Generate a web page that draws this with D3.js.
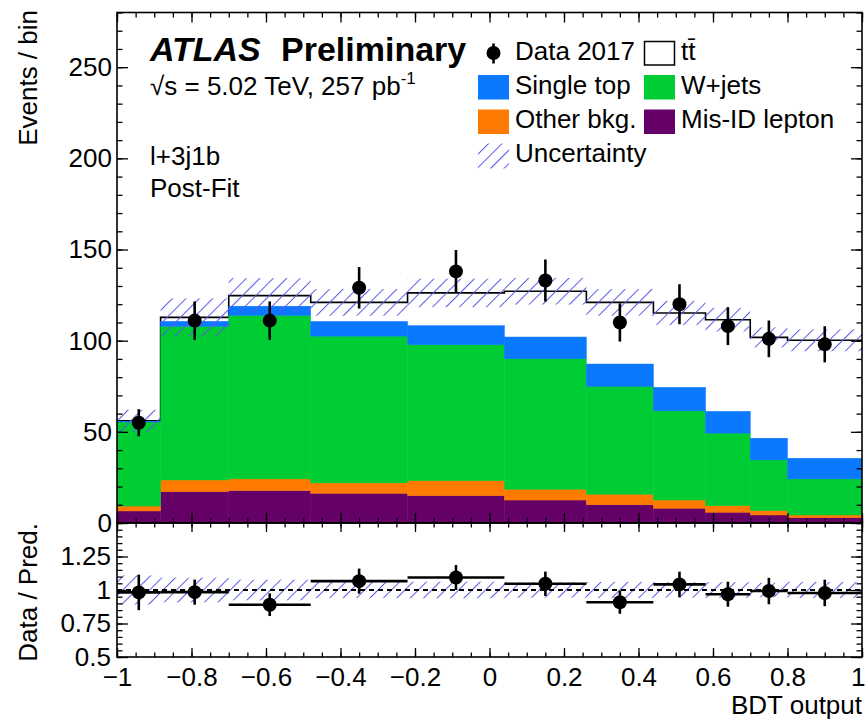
<!DOCTYPE html>
<html><head><meta charset="utf-8">
<script src="https://cdn.jsdelivr.net/npm/d3@7"></script>
<style>
body{margin:0;background:#fff}
text{font-family:"Liberation Sans",Arial,Helvetica,sans-serif;fill:#000}
</style>
</head><body>
<svg id="c" width="866" height="721"></svg>
<script>
// ---- data ----
const binEdges  = [-1, -0.883, -0.70, -0.48, -0.22, 0.04, 0.26, 0.44, 0.58, 0.70, 0.80, 1];
const misID     = [6.6, 17.2, 17.8, 16.3, 15.0, 12.6, 10.0, 8.1, 5.9, 4.4, 2.9];
const otherBkg  = [2.7, 6.4, 6.4, 5.7, 8.2, 5.9, 5.8, 4.5, 3.6, 2.4, 1.5];
const wjets     = [46.1, 84.3, 89.7, 80.5, 74.6, 71.6, 59.1, 48.9, 39.8, 27.8, 19.8];
const singleTop = [0.4, 2.7, 5.0, 8.0, 10.4, 11.9, 12.3, 12.9, 11.9, 11.9, 11.3];
const ttbar     = [0.2, 2.2, 5.8, 10.5, 18.0, 25.1, 33.8, 40.8, 50.3, 55.3, 64.7];
const dataVals  = [55, 111, 111, 129, 138, 133, 110, 120, 108, 101, 98];
const uncert    = [6.1, 10.4, 9.6, 7.3, 7.8, 7.3, 7.3, 6.6, 6.5, 5.5, 6.0];
const xTicks    = [-1, -0.8, -0.6, -0.4, -0.2, 0, 0.2, 0.4, 0.6, 0.8, 1];
const yTicks    = [0, 50, 100, 150, 200, 250];
const rTicks    = [0.5, 0.75, 1, 1.25];

const svg = d3.select("#c");
const FS = 26;
const L = 117, R = 862, T = 12.5, MB = 523, RB = 657;
const x  = d3.scaleLinear().domain([-1, 1]).range([L, R]);
const y  = d3.scaleLinear().domain([0, 280]).range([MB, T]);
const yr = d3.scaleLinear().domain([0.5, 1.5]).range([RB, MB]);

const colors = {misID:"#650066", other:"#ff7a00", wjets:"#00cc33", single:"#0a78ff", tt:"#ffffff"};
const hatchCol = "#5a5ae6";

// defs: hatch + clips
const defs = svg.append("defs");
const pat = defs.append("pattern").attr("id","hatch").attr("patternUnits","userSpaceOnUse")
  .attr("width",9.5).attr("height",9.5).attr("patternTransform","rotate(45)");
pat.append("line").attr("x1",0).attr("y1",0).attr("x2",0).attr("y2",9.5)
  .attr("stroke",hatchCol).attr("stroke-width",2);
defs.append("clipPath").attr("id","clipMain").append("rect").attr("x",L).attr("y",T).attr("width",R-L).attr("height",MB-T);
defs.append("clipPath").attr("id","clipRatio").append("rect").attr("x",L).attr("y",MB).attr("width",R-L).attr("height",RB-MB);

// ---- stack ----
const rows = binEdges.slice(0,-1).map((e,i)=>({
  lo:e, hi:binEdges[i+1], misID:misID[i], other:otherBkg[i], wjets:wjets[i], single:singleTop[i], tt:ttbar[i]
}));
const keys = ["misID","other","wjets","single","tt"];
const stacked = d3.stack().keys(keys)(rows);
const total = rows.map(r=>keys.reduce((s,k)=>s+r[k],0));

const gMain = svg.append("g").attr("clip-path","url(#clipMain)");

// total (ttbar) outline drawn first, as in stacked histograms
const stepPts = [];
rows.forEach((r,i)=>{ stepPts.push([x(r.lo), y(total[i])]); stepPts.push([x(r.hi), y(total[i])]); });
gMain.append("path").attr("d", d3.line()(stepPts)).attr("fill","none").attr("stroke","#000").attr("stroke-width",1.6);

// filled components (excluding ttbar, which is white)
stacked.filter(s=>s.key!=="tt").forEach(s=>{
  gMain.append("g").selectAll("rect").data(s).join("rect")
    .attr("x", d=>x(d.data.lo)).attr("width", d=>x(d.data.hi)-x(d.data.lo))
    .attr("y", d=>y(d[1])).attr("height", d=>y(d[0])-y(d[1]))
    .attr("fill", colors[s.key]).attr("stroke", colors[s.key]).attr("stroke-width",0.5);
});

// uncertainty band
gMain.append("g").selectAll("rect").data(rows).join("rect")
  .attr("x", d=>x(d.lo)).attr("width", d=>x(d.hi)-x(d.lo))
  .attr("y", (d,i)=>y(total[i]+uncert[i])).attr("height",(d,i)=>y(total[i]-uncert[i])-y(total[i]+uncert[i]))
  .attr("fill","url(#hatch)");

// data points
const centers = rows.map(r=>(r.lo+r.hi)/2);
const gData = svg.append("g");
gData.selectAll("line").data(dataVals).join("line")
  .attr("x1",(d,i)=>x(centers[i])).attr("x2",(d,i)=>x(centers[i]))
  .attr("y1",d=>y(d+Math.sqrt(d))).attr("y2",d=>y(d-Math.sqrt(d)))
  .attr("stroke","#000").attr("stroke-width",2.6);
gData.selectAll("circle").data(dataVals).join("circle")
  .attr("cx",(d,i)=>x(centers[i])).attr("cy",d=>y(d)).attr("r",7).attr("fill","#000");

// ---- ratio panel ----
const gRatio = svg.append("g").attr("clip-path","url(#clipRatio)");
gRatio.append("g").selectAll("rect").data(rows).join("rect")
  .attr("x", d=>x(d.lo)).attr("width", d=>x(d.hi)-x(d.lo))
  .attr("y",(d,i)=>yr(1+uncert[i]/total[i])).attr("height",(d,i)=>yr(1-uncert[i]/total[i])-yr(1+uncert[i]/total[i]))
  .attr("fill","url(#hatch)");
gRatio.append("line").attr("x1",L).attr("x2",R).attr("y1",yr(1)).attr("y2",yr(1))
  .attr("stroke","#000").attr("stroke-width",2).attr("stroke-dasharray","5,4");
const ratio = dataVals.map((d,i)=>d/total[i]);
const ratioErr = dataVals.map((d,i)=>Math.sqrt(d)/total[i]);
gRatio.append("g").selectAll("line").data(ratio).join("line")
  .attr("x1",(d,i)=>x(rows[i].lo)).attr("x2",(d,i)=>x(rows[i].hi))
  .attr("y1",d=>yr(d)).attr("y2",d=>yr(d)).attr("stroke","#000").attr("stroke-width",2.6);
gRatio.append("g").selectAll("line").data(ratio).join("line")
  .attr("x1",(d,i)=>x(centers[i])).attr("x2",(d,i)=>x(centers[i]))
  .attr("y1",(d,i)=>yr(d+ratioErr[i])).attr("y2",(d,i)=>yr(d-ratioErr[i]))
  .attr("stroke","#000").attr("stroke-width",2.6);
gRatio.append("g").selectAll("circle").data(ratio).join("circle")
  .attr("cx",(d,i)=>x(centers[i])).attr("cy",d=>yr(d)).attr("r",7).attr("fill","#000");

// ---- axes ----
const fmt = d3.format("~g");
const minorX = d3.range(-1, 1.0001, 0.05).map(v=>+v.toFixed(2));
const minorY = d3.range(0, 281, 10);
const minorR = d3.range(0.5, 1.5001, 0.05).map(v=>+v.toFixed(2));

function styleAxis(g, labels){
  g.select(".domain").remove();
  g.selectAll(".tick line").attr("stroke","#000").attr("stroke-width",1.3);
  g.selectAll(".tick text").attr("font-size",FS).style("font-family",'"Liberation Sans",Arial,sans-serif');
  if(!labels) g.selectAll(".tick text").remove();
}
function addAxis(axis, tx, ty, labels){
  const g = svg.append("g").attr("transform",`translate(${tx},${ty})`).call(axis);
  styleAxis(g, labels); return g;
}
// main panel x ticks (bottom & top)
addAxis(d3.axisBottom(x).tickValues(xTicks).tickSize(-10).tickFormat(""), 0, MB, false);
addAxis(d3.axisBottom(x).tickValues(minorX).tickSize(-5).tickFormat(""), 0, MB, false);
addAxis(d3.axisTop(x).tickValues(xTicks).tickSize(-10).tickFormat(""), 0, T, false);
addAxis(d3.axisTop(x).tickValues(minorX).tickSize(-5).tickFormat(""), 0, T, false);
// main y
addAxis(d3.axisLeft(y).tickValues(yTicks).tickSize(-11).tickPadding(5).tickFormat(fmt), L, 0, true);
addAxis(d3.axisLeft(y).tickValues(minorY).tickSize(-5.5).tickFormat(""), L, 0, false);
addAxis(d3.axisRight(y).tickValues(yTicks).tickSize(-11).tickFormat(""), R, 0, false);
addAxis(d3.axisRight(y).tickValues(minorY).tickSize(-5.5).tickFormat(""), R, 0, false);
// ratio x
const gRX = addAxis(d3.axisBottom(x).tickValues(xTicks).tickSize(-9).tickPadding(11).tickFormat(fmt), 0, RB, true);
gRX.selectAll(".tick text").filter(d=>d===1).attr("text-anchor","end").attr("x",3);
addAxis(d3.axisBottom(x).tickValues(minorX).tickSize(-4.5).tickFormat(""), 0, RB, false);
addAxis(d3.axisTop(x).tickValues(xTicks).tickSize(-9).tickFormat(""), 0, MB, false);
addAxis(d3.axisTop(x).tickValues(minorX).tickSize(-4.5).tickFormat(""), 0, MB, false);
// ratio y
addAxis(d3.axisLeft(yr).tickValues(rTicks).tickSize(-11).tickPadding(6).tickFormat(fmt), L, 0, true);
addAxis(d3.axisLeft(yr).tickValues(minorR).tickSize(-5.5).tickFormat(""), L, 0, false);
addAxis(d3.axisRight(yr).tickValues(rTicks).tickSize(-11).tickFormat(""), R, 0, false);
addAxis(d3.axisRight(yr).tickValues(minorR).tickSize(-5.5).tickFormat(""), R, 0, false);

// frames
svg.append("rect").attr("x",L).attr("y",T).attr("width",R-L).attr("height",MB-T).attr("fill","none").attr("stroke","#000").attr("stroke-width",1.6);
svg.append("rect").attr("x",L).attr("y",MB).attr("width",R-L).attr("height",RB-MB).attr("fill","none").attr("stroke","#000").attr("stroke-width",1.6);

// axis titles
svg.append("text").attr("transform","translate(37,10) rotate(-90)").attr("text-anchor","end").attr("font-size",FS).text("Events / bin");
svg.append("text").attr("transform","translate(37,523) rotate(-90)").attr("text-anchor","end").attr("font-size",FS).text("Data / Pred.");
svg.append("text").attr("x",R).attr("y",714).attr("text-anchor","end").attr("font-size",FS).text("BDT output");

// ATLAS label
svg.append("text").attr("x",150).attr("y",61).attr("font-size",34).attr("font-weight","bold").attr("font-style","italic").text("ATLAS");
svg.append("text").attr("x",281).attr("y",61).attr("font-size",34).attr("font-weight","bold").text("Preliminary");
const lumi = svg.append("text").attr("x",150).attr("y",95).attr("font-size",FS);
lumi.append("tspan").text("\u221As = 5.02 TeV, 257 pb");
lumi.append("tspan").attr("font-size",17).attr("dy",-11).text("-1");
svg.append("text").attr("x",150).attr("y",165).attr("font-size",FS).text("l+3j1b");
svg.append("text").attr("x",150).attr("y",197).attr("font-size",FS).text("Post-Fit");

// ---- legend ----
const legendLabels = ["Data 2017","t\u0074\u0304","Single top","W+jets","Other bkg.","Mis-ID lepton","Uncertainty"];
const legendKinds  = ["data","tt","single","wjets","other","misID","unc"];
const colX = [478, 644], rowY = [59.5, 93.5, 128, 162];
const gL = svg.append("g");
legendLabels.forEach((lab,i)=>{
  const col = i%2, row = Math.floor(i/2);
  const bx = colX[col], by = rowY[row];
  const kind = legendKinds[i];
  if(kind==="data"){
    gL.append("line").attr("x1",bx+15.5).attr("x2",bx+15.5).attr("y1",by-16).attr("y2",by+4).attr("stroke","#000").attr("stroke-width",2.6);
    gL.append("circle").attr("cx",bx+15.5).attr("cy",by-6.5).attr("r",7).attr("fill","#000");
  } else if(kind==="unc"){
    gL.append("rect").attr("x",bx).attr("y",by-18.5).attr("width",31).attr("height",25).attr("fill","url(#hatch)");
  } else if(kind==="tt"){
    gL.append("rect").attr("x",bx+0.5).attr("y",by-18).attr("width",30).attr("height",23.5).attr("fill","#fff").attr("stroke","#000").attr("stroke-width",1.5);
  } else {
    gL.append("rect").attr("x",bx).attr("y",by-18.5).attr("width",31).attr("height",24.5).attr("fill",colors[kind]);
  }
  gL.append("text").attr("x",bx+37).attr("y",by).attr("font-size",FS).text(lab);
});
</script>
</body></html>
